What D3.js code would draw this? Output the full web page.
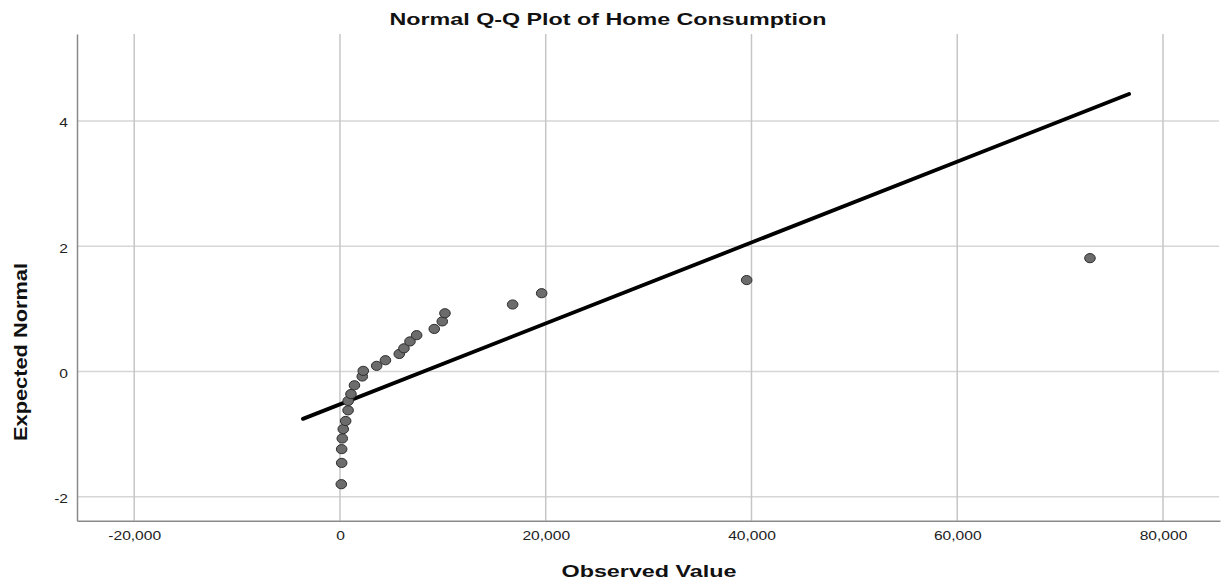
<!DOCTYPE html>
<html>
<head>
<meta charset="utf-8">
<script src="https://cdn.jsdelivr.net/npm/d3@7"></script>
<style>
  html, body { margin: 0; padding: 0; background: #fff; }
  svg { display: block; font-family: "Liberation Sans", Arial, sans-serif; }
</style>
</head>
<body>
<svg id="chart" width="1228" height="585"></svg>
<script>
// Sorted observed values of home consumption and their expected normal scores
const observed = [130, 165, 165, 224, 320, 554, 790, 800, 1069, 1409, 2168, 2265, 3567,
                  4420, 5764, 6221, 6804, 7455, 9166, 9944, 10206, 16786, 19605, 39531, 72900];
const expected = [-1.80, -1.46, -1.24, -1.07, -0.92, -0.79, -0.62, -0.47, -0.36, -0.22, -0.08, 0.01, 0.09,
                  0.18, 0.28, 0.37, 0.48, 0.58, 0.68, 0.80, 0.93, 1.07, 1.25, 1.46, 1.81];

// Reference line: expected = (observed - mean) / sd, drawn over this observed range
const lineMean = 8116;
const lineSd = 15477;
const lineRange = [-3600, 76700];

// Axis ticks
const xTicks = [-20000, 0, 20000, 40000, 60000, 80000];
const yTicks = [-2, 0, 2, 4];

const svg = d3.select("#chart");
const plot = { left: 77, right: 1220, top: 34, bottom: 520.7 };

const x = d3.scaleLinear().domain([-25560, 85540]).range([plot.left, plot.right]);
const y = d3.scaleLinear().domain([-2.383, 5.39]).range([plot.bottom, plot.top]);

// Plain hyphen-minus for negative tick labels
const locale = d3.formatLocale({ decimal: ".", thousands: ",", grouping: [3], currency: ["$", ""], minus: "-" });

// Grid lines
svg.append("g")
  .selectAll("line")
  .data(yTicks)
  .join("line")
  .attr("x1", plot.left).attr("x2", plot.right - 1)
  .attr("y1", d => y(d)).attr("y2", d => y(d))
  .attr("stroke", "#d6d6d6").attr("stroke-width", 1.5);

svg.append("g")
  .selectAll("line")
  .data(xTicks)
  .join("line")
  .attr("x1", d => x(d)).attr("x2", d => x(d))
  .attr("y1", plot.top).attr("y2", plot.bottom)
  .attr("stroke", "#c6c6c6").attr("stroke-width", 1.5);

// Axes
const xAxis = svg.append("g")
  .attr("transform", `translate(0,${plot.bottom})`)
  .call(d3.axisBottom(x).tickValues(xTicks).tickFormat(locale.format(",")).tickSize(0).tickPadding(0));
xAxis.select(".domain").attr("stroke", "#8a8a8a").attr("stroke-width", 1.5);
xAxis.selectAll("text")
  .attr("dy", null).attr("y", 19.5)
  .attr("font-family", "'Liberation Sans', Arial, sans-serif")
  .attr("font-size", 13).attr("fill", "#222")
  .attr("transform", "scale(1.2,1)");

const yAxis = svg.append("g")
  .attr("transform", `translate(${plot.left},0)`)
  .call(d3.axisLeft(y).tickValues(yTicks).tickFormat(locale.format("d")).tickSize(0).tickPadding(0));
yAxis.select(".domain").attr("stroke", "#8a8a8a").attr("stroke-width", 1.5);
yAxis.selectAll("text")
  .attr("x", -7.5).attr("dy", "0.45em")
  .attr("font-family", "'Liberation Sans', Arial, sans-serif")
  .attr("font-size", 13).attr("fill", "#222")
  .attr("transform", "scale(1.2,1)");

// Fitted normal line
const lineGen = d3.line()
  .x(d => x(d))
  .y(d => y((d - lineMean) / lineSd));
svg.append("path")
  .datum(lineRange)
  .attr("d", lineGen)
  .attr("fill", "none")
  .attr("stroke", "#000")
  .attr("stroke-width", 3.8)
  .attr("stroke-linecap", "round");

// Points
svg.append("g")
  .selectAll("ellipse")
  .data(observed.map((v, i) => ({ v, e: expected[i] })))
  .join("ellipse")
  .attr("cx", d => x(d.v))
  .attr("cy", d => y(d.e))
  .attr("rx", 5.3).attr("ry", 4.6)
  .attr("fill", "#6c6c6c")
  .attr("stroke", "#2e2e2e")
  .attr("stroke-width", 1);

// Titles
svg.append("text")
  .attr("x", 608).attr("y", 25)
  .attr("text-anchor", "middle")
  .attr("font-size", 17).attr("font-weight", "bold").attr("fill", "#111")
  .attr("textLength", 437).attr("lengthAdjust", "spacingAndGlyphs")
  .text("Normal Q-Q Plot of Home Consumption");

svg.append("text")
  .attr("x", 649).attr("y", 577)
  .attr("text-anchor", "middle")
  .attr("font-size", 17).attr("font-weight", "bold").attr("fill", "#111")
  .attr("textLength", 175).attr("lengthAdjust", "spacingAndGlyphs")
  .text("Observed Value");

svg.append("text")
  .attr("transform", "translate(27,352) rotate(-90)")
  .attr("text-anchor", "middle")
  .attr("font-size", 19).attr("font-weight", "bold").attr("fill", "#111")
  .attr("textLength", 178).attr("lengthAdjust", "spacingAndGlyphs")
  .text("Expected Normal");
</script>
</body>
</html>
